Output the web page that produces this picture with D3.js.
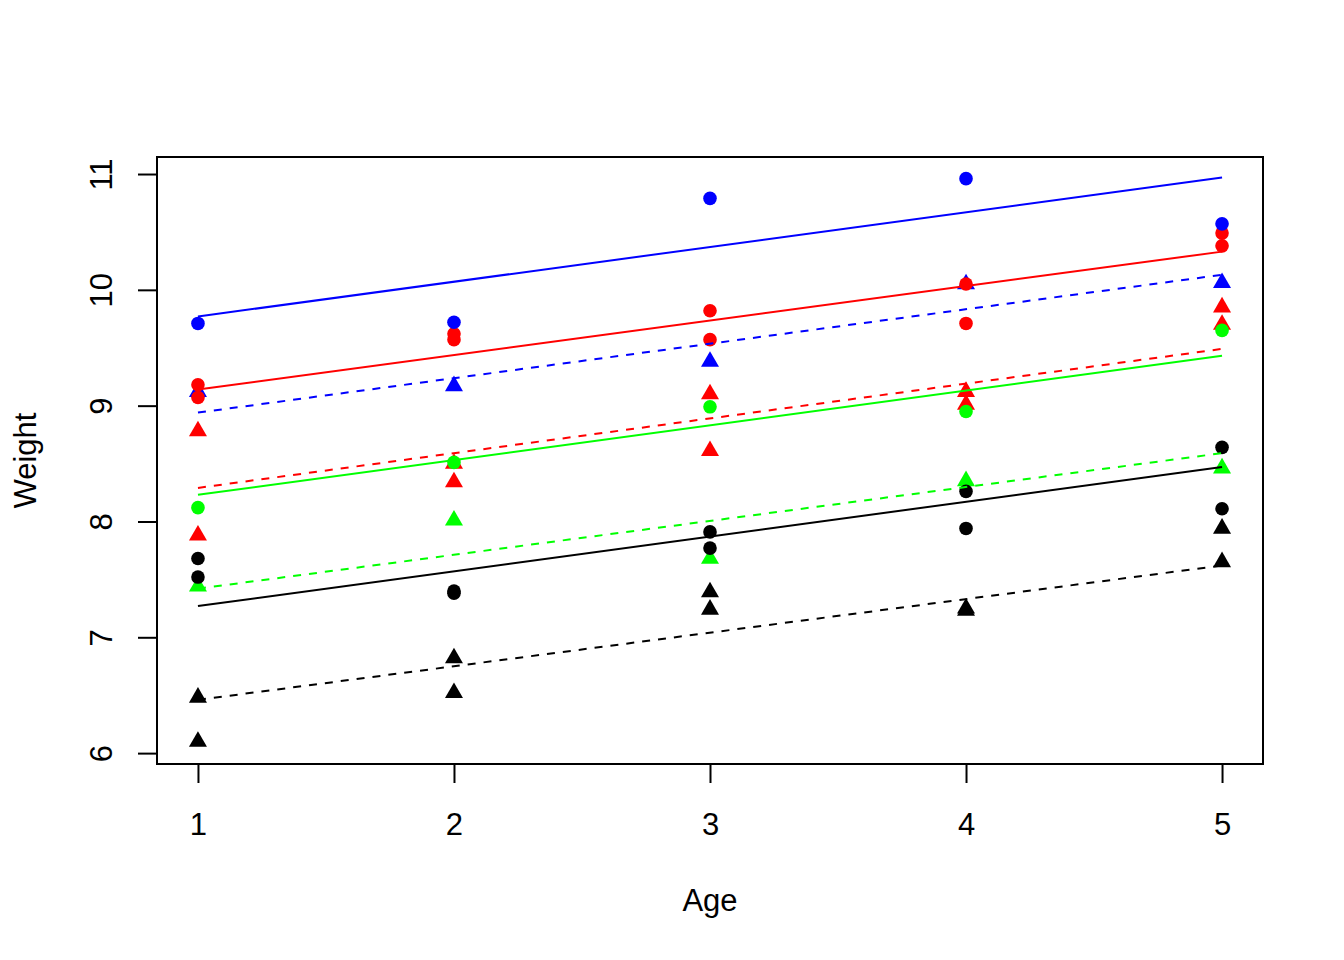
<!DOCTYPE html>
<html>
<head>
<meta charset="utf-8">
<script src="https://cdn.jsdelivr.net/npm/d3@7"></script>
<style>
  body { margin: 0; background: #fff; }
  text { font-family: "Liberation Sans", Arial, sans-serif; }
</style>
</head>
<body>
<svg width="1344" height="960"></svg>
<script>
const svg = d3.select('svg');

// ages of the x axis
const ages = [1, 2, 3, 4, 5];
const weightTicks = [6, 7, 8, 9, 10, 11];

// observed points, one small array per colour/shape group
const blackCircleAge = [1, 1, 2, 2, 3, 3, 4, 4, 5, 5];
const blackCircleWt  = [7.68, 7.52, 7.40, 7.38, 7.91, 7.77, 8.26, 7.94, 8.64, 8.11];
const blackTriAge = [1, 1, 2, 2, 3, 3, 4, 4, 5, 5];
const blackTriWt  = [6.48, 6.10, 6.82, 6.52, 7.39, 7.24, 7.25, 7.23, 7.94, 7.65];
const redCircleAge = [1, 1, 2, 2, 3, 3, 4, 4, 5, 5];
const redCircleWt  = [9.18, 9.07, 9.62, 9.57, 9.82, 9.57, 10.05, 9.71, 10.49, 10.38];
const redTriAge = [1, 1, 2, 2, 3, 3, 4, 4, 5, 5];
const redTriWt  = [8.78, 7.88, 8.50, 8.34, 9.10, 8.61, 9.12, 9.01, 9.85, 9.70];
const greenCircleAge = [1, 2, 3, 4, 5];
const greenCircleWt  = [8.12, 8.51, 8.99, 8.95, 9.65];
const greenTriAge = [1, 2, 3, 4, 5];
const greenTriWt  = [7.44, 8.01, 7.68, 8.35, 8.46];
const blueCircleAge = [1, 2, 3, 4, 5];
const blueCircleWt  = [9.71, 9.72, 10.79, 10.96, 10.57];
const blueTriAge = [1, 2, 3, 4, 5];
const blueTriWt  = [9.12, 9.17, 9.38, 10.05, 10.06];

// fitted lines: value at age 1 and at age 5
const fitGroups = ['blueCircle', 'redCircle', 'blueTri', 'redTri', 'greenCircle', 'greenTri', 'blackCircle', 'blackTri'];
const fitStart = [9.77, 9.14, 8.94, 8.29, 8.23, 7.42, 7.27, 6.46];
const fitEnd   = [10.97, 10.33, 10.13, 9.49, 9.43, 8.59, 8.47, 7.62];

const colors = { black: '#000000', red: '#FF0000', green: '#00FF00', blue: '#0000FF' };

const plotLeft = 157, plotRight = 1263, plotTop = 157, plotBottom = 764;

const x = d3.scaleLinear().domain([0.84, 5.16]).range([plotLeft, plotRight]);
const y = d3.scaleLinear().domain([5.906, 11.147]).range([plotBottom, plotTop]);

// build the groups
const groups = [
  { key: 'blackTri', color: 'black', shape: 'tri', age: blackTriAge, wt: blackTriWt },
  { key: 'redTri', color: 'red', shape: 'tri', age: redTriAge, wt: redTriWt },
  { key: 'greenTri', color: 'green', shape: 'tri', age: greenTriAge, wt: greenTriWt },
  { key: 'blueTri', color: 'blue', shape: 'tri', age: blueTriAge, wt: blueTriWt },
  { key: 'blackCircle', color: 'black', shape: 'circle', age: blackCircleAge, wt: blackCircleWt },
  { key: 'redCircle', color: 'red', shape: 'circle', age: redCircleAge, wt: redCircleWt },
  { key: 'greenCircle', color: 'green', shape: 'circle', age: greenCircleAge, wt: greenCircleWt },
  { key: 'blueCircle', color: 'blue', shape: 'circle', age: blueCircleAge, wt: blueCircleWt }
];

// R pch 17 triangle: top r above the point, base r/2 below
const triR = 10.4;
const triPath = `M0,${-triR}L${triR * Math.sqrt(3) / 2},${triR / 2}L${-triR * Math.sqrt(3) / 2},${triR / 2}Z`;

const pts = svg.append('g');
groups.forEach(g => {
  const data = g.age.map((a, i) => ({ age: a, wt: g.wt[i] }));
  if (g.shape === 'tri') {
    pts.selectAll('.t-' + g.key)
      .data(data)
      .enter()
      .append('path')
      .attr('class', 't-' + g.key)
      .attr('d', triPath)
      .attr('transform', d => `translate(${x(d.age)},${y(d.wt)})`)
      .attr('fill', colors[g.color]);
  } else {
    pts.selectAll('.c-' + g.key)
      .data(data)
      .enter()
      .append('circle')
      .attr('class', 'c-' + g.key)
      .attr('cx', d => x(d.age))
      .attr('cy', d => y(d.wt))
      .attr('r', 6.8)
      .attr('fill', colors[g.color]);
  }
});

// fitted lines, solid for circles and dashed for triangles
const lines = fitGroups.map((k, i) => {
  const g = groups.find(gg => gg.key === k);
  return { color: g.color, dashed: g.shape === 'tri', a: fitStart[i], b: fitEnd[i] };
});
svg.append('g').selectAll('line')
  .data(lines)
  .enter()
  .append('line')
  .attr('x1', x(1))
  .attr('x2', x(5))
  .attr('y1', d => y(d.a))
  .attr('y2', d => y(d.b))
  .attr('stroke', d => colors[d.color])
  .attr('stroke-width', 2)
  .attr('stroke-dasharray', d => d.dashed ? '8,8' : null);

// box
svg.append('rect')
  .attr('x', plotLeft).attr('y', plotTop)
  .attr('width', plotRight - plotLeft).attr('height', plotBottom - plotTop)
  .attr('fill', 'none').attr('stroke', '#000').attr('stroke-width', 2);

// x axis
const xAxis = svg.append('g')
  .attr('transform', `translate(0,${plotBottom})`)
  .call(d3.axisBottom(x).tickValues(ages).tickSize(19).tickPadding(0).tickFormat(d3.format('d')));
xAxis.select('.domain').remove();
xAxis.selectAll('.tick line').attr('stroke-width', 2);
xAxis.selectAll('.tick text')
  .attr('y', 71).attr('dy', null)
  .style('font-size', '31px').attr('fill', '#000');

// y axis with rotated labels
const yAxis = svg.append('g')
  .attr('transform', `translate(${plotLeft},0)`)
  .call(d3.axisLeft(y).tickValues(weightTicks).tickSize(19).tickFormat(d3.format('d')));
yAxis.select('.domain').remove();
yAxis.selectAll('.tick line').attr('stroke-width', 2);
yAxis.selectAll('.tick text')
  .attr('x', null).attr('dy', null)
  .attr('text-anchor', 'middle')
  .attr('transform', 'translate(-45,0) rotate(-90)')
  .style('font-size', '31px').attr('fill', '#000');

// axis titles
svg.append('text')
  .attr('x', (plotLeft + plotRight) / 2).attr('y', 911)
  .attr('text-anchor', 'middle')
  .style('font-size', '31px')
  .text('Age');

svg.append('text')
  .attr('transform', `translate(36,${(plotTop + plotBottom) / 2}) rotate(-90)`)
  .attr('text-anchor', 'middle')
  .style('font-size', '31px')
  .text('Weight');
</script>
</body>
</html>
